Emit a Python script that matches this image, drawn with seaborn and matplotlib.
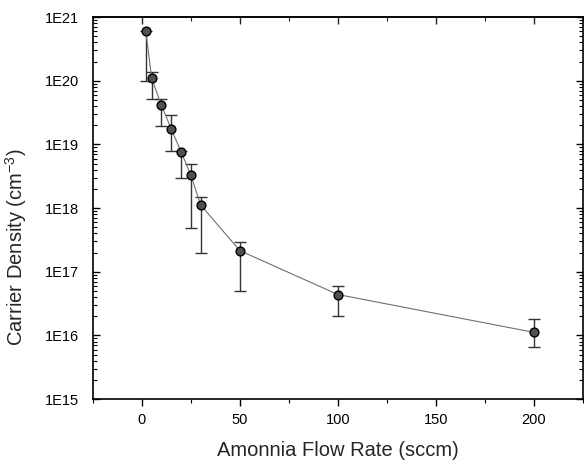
"""Carrier density vs. ammonia flow rate, log scale with asymmetric error bars."""

import matplotlib

matplotlib.use("Agg")

import matplotlib.pyplot as plt
import matplotlib.ticker as mticker
import numpy as np
import pandas as pd
import seaborn as sns

# values
flow_sccm = [2, 5, 10, 15, 20, 25, 30, 50, 100, 200]
density = [6.1e20, 1.1e20, 4.1e19, 1.75e19, 7.7e18, 3.3e18, 1.12e18, 2.15e17, 4.4e16, 1.12e16]
err_upper = [6.1e20, 1.38e20, 5.1e19, 2.95e19, 8.0e18, 4.9e18, 1.48e18, 2.95e17, 6.0e16, 1.8e16]
err_lower = [1.0e20, 5.1e19, 1.96e19, 7.9e18, 3.0e18, 4.9e17, 2.0e17, 5.0e16, 2.05e16, 6.5e15]

x_ticks = [0, 50, 100, 150, 200]

sns.set_theme(style="ticks")
plt.rcParams["font.family"] = ["Liberation Sans", "DejaVu Sans"]

df = pd.DataFrame({"flow": flow_sccm, "density": density})

fig = plt.figure(figsize=(5.84, 4.62), dpi=100)
ax = fig.add_axes([0.159, 0.136, 0.839, 0.827])

dens = np.array(density)
yerr = np.vstack([dens - np.array(err_lower), np.array(err_upper) - dens])
ax.errorbar(
    flow_sccm, density, yerr=yerr, fmt="none",
    ecolor="#333333", elinewidth=1.0, capsize=4, capthick=1.0, zorder=2,
)
sns.lineplot(data=df, x="flow", y="density", ax=ax, color="#707070",
             linewidth=0.8, zorder=3)
sns.scatterplot(data=df, x="flow", y="density", ax=ax, s=40, color="#505050",
                edgecolor="black", linewidth=1.0, zorder=4)

ax.set_yscale("log")
ax.set_ylim(1e15, 1e21)
ax.set_xlim(-25, 225)
ax.set_xticks(x_ticks)
ax.xaxis.set_minor_locator(mticker.MultipleLocator(25))
ax.yaxis.set_major_locator(mticker.LogLocator(base=10, numticks=10))
ax.yaxis.set_minor_locator(mticker.LogLocator(base=10, subs=np.arange(2, 10), numticks=20))
ax.yaxis.set_major_formatter(
    mticker.FuncFormatter(lambda v, _: f"1E{int(round(np.log10(v)))}")
)
ax.yaxis.set_minor_formatter(mticker.NullFormatter())

for side in ["top", "right", "bottom", "left"]:
    ax.spines[side].set_visible(True)
    ax.spines[side].set_color("black")
    ax.spines[side].set_linewidth(1.2)

# bottom ticks point out, top ticks point in
ax.tick_params(axis="x", which="both", direction="out", top=False, labelsize=10.5,
               colors="black", pad=5)
top = ax.secondary_xaxis("top")
top.set_xticks(x_ticks)
top.xaxis.set_minor_locator(mticker.MultipleLocator(25))
top.tick_params(which="both", direction="in", labeltop=False)
top.tick_params(which="major", length=5, width=1)
top.tick_params(which="minor", length=3, width=0.8)
top.spines["top"].set_linewidth(1.2)

ax.tick_params(axis="y", which="both", direction="in", right=True, labelsize=10.5,
               colors="black", pad=10)
ax.tick_params(which="major", length=5, width=1)
ax.tick_params(which="minor", length=3, width=0.8)

ax.set_xlabel("Amonnia Flow Rate (sccm)", fontsize=14.5, va="center")
ax.set_ylabel("Carrier Density (cm$^{\\mathregular{-3}}$)", fontsize=14.5, va="center")
ax.xaxis.set_label_coords(0.5, -0.134)
ax.yaxis.set_label_coords(-0.157, 0.398)

fig.savefig("out.png", dpi=100)
plt.close(fig)
